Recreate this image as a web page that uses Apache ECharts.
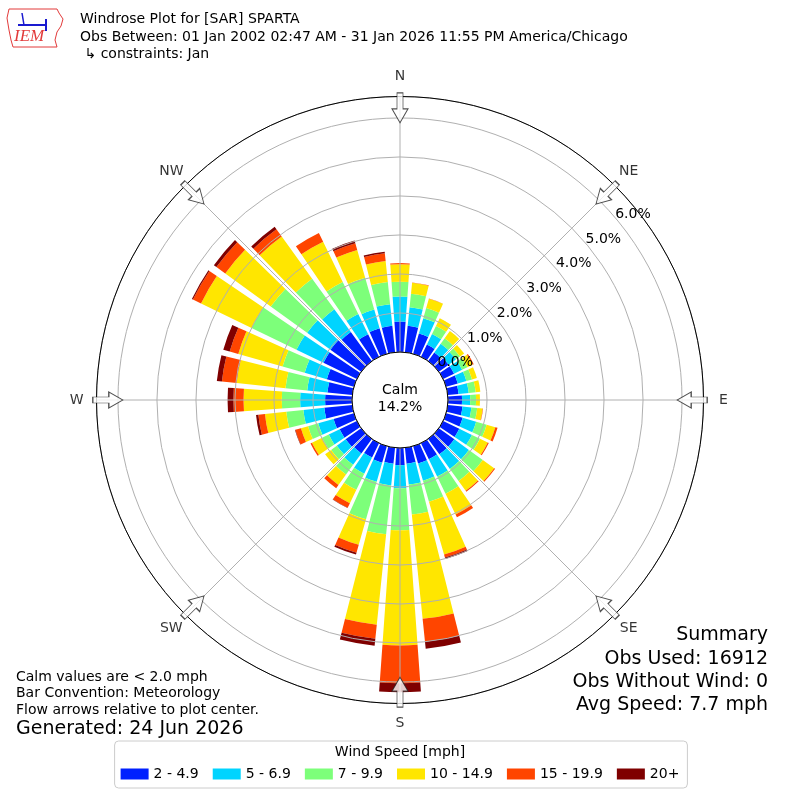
<!DOCTYPE html>
<html><head><meta charset="utf-8">
<script src="https://cdn.jsdelivr.net/npm/echarts@6/dist/echarts.min.js"></script>
<style>html,body{margin:0;padding:0;background:#fff}#c{width:800px;height:800px}</style>
</head><body><div id="c"></div>
<script>
// ---- data (percent of observations) ----
const directions = [0,10,20,30,40,50,60,70,80,90,100,110,120,130,140,150,160,170,180,190,200,210,220,230,240,250,260,270,280,290,300,310,320,330,340,350];
const speedBins = ['2 - 4.9','5 - 6.9','7 - 9.9','10 - 14.9','15 - 19.9','20+'];
const binColors = ['#0020ff','#00d4ff','#7dff7a','#ffe600','#ff4500','#7f0000'];
const spd2to5   = [0.78,0.68,0.54,0.35,0.27,0.31,0.31,0.31,0.28,0.36,0.38,0.44,0.46,0.49,0.49,0.46,0.46,0.41,0.44,0.41,0.44,0.41,0.46,0.49,0.49,0.54,0.72,0.69,0.64,0.72,0.95,0.97,0.92,0.64,0.68,0.68];
const spd5to7   = [0.64,0.48,0.41,0.30,0.28,0.23,0.23,0.23,0.26,0.21,0.23,0.36,0.36,0.46,0.46,0.49,0.46,0.54,0.59,0.56,0.51,0.46,0.36,0.28,0.31,0.41,0.54,0.64,0.52,0.59,0.77,0.74,0.72,0.58,0.50,0.56];
const spd7to10  = [0.38,0.35,0.27,0.23,0.17,0.13,0.15,0.15,0.18,0.15,0.15,0.28,0.23,0.44,0.38,0.49,0.56,0.77,1.08,1.26,1.00,0.46,0.31,0.18,0.19,0.27,0.44,0.47,0.56,0.59,1.28,1.15,0.97,0.91,0.85,0.57];
const spd10to15 = [0.45,0.28,0.25,0.22,0.23,0.13,0.15,0.13,0.12,0.10,0.14,0.23,0.22,0.36,0.31,0.59,1.41,2.69,2.95,2.33,0.68,0.38,0.33,0.19,0.29,0.19,0.55,0.98,1.26,1.18,1.44,1.44,1.33,1.15,0.74,0.54];
const spd15to20 = [0.03,0.01,0.005,0,0,0,0.03,0,0,0,0.01,0.06,0.03,0.03,0.03,0.08,0.08,0.59,0.97,0.36,0.21,0.13,0.10,0,0.04,0.15,0.17,0.26,0.38,0.23,0.23,0.28,0.23,0.25,0.18,0.20];
const spd20plus = [0,0,0,0,0,0,0,0,0,0,0,0,0,0,0,0,0.04,0.18,0.23,0.18,0.05,0.01,0,0,0,0.01,0.06,0.15,0.13,0.17,0.03,0.08,0.08,0,0.07,0.04];
const calmPct = 14.2;
const radialTicks = [0,1,2,3,4,5,6];
const compassNames = ['N','NE','E','SE','S','SW','W','NW'];
const compassAngles = [0,45,90,135,180,225,270,315];
const rMax = 6.55;

const binData = [spd2to5, spd5to7, spd7to10, spd10to15, spd15to20, spd20plus];
const FONT = 'DejaVu Sans';
const chart = echarts.init(document.getElementById('c'), null, {renderer:'canvas'});

const barSeries = speedBins.map((name, i) => ({
  type: 'bar', name, coordinateSystem: 'polar', polarIndex: 0, stack: 'rose',
  data: binData[i], barCategoryGap: '18%', itemStyle: {color: binColors[i]},
  silent: true, z: 2
}));

const option = {
  animation: false,
  backgroundColor: '#fff',
  polar: [
    {center: ['50%','50%'], radius: [48, 303.5]},
    {center: ['50%','50%'], radius: [48, 303.5]},
    {center: [403.5, 406], radius: [67.5, 320.3]}
  ],
  angleAxis: [
    {polarIndex: 0, type: 'category', data: directions.map(String), startAngle: 95, clockwise: true,
     axisLine: {show: false}, axisTick: {show: false}, axisLabel: {show: false}, splitLine: {show: false}},
    {polarIndex: 1, type: 'value', min: 0, max: 360, interval: 45, startAngle: 90, clockwise: true, z: 11,
     axisLine: {show: true, lineStyle: {color: '#000', width: 1}}, axisTick: {show: false}, axisLabel: {show: false},
     splitLine: {show: true, lineStyle: {color: '#b0b0b0', width: 1}}},
    {polarIndex: 2, type: 'value', min: 0, max: 360, startAngle: 39.9, show: false}
  ],
  radiusAxis: [
    {polarIndex: 0, type: 'value', min: 0, max: rMax, show: false},
    {polarIndex: 1, type: 'value', min: 0, max: rMax, interval: 1, z: 10,
     axisLine: {show: false}, axisTick: {show: false}, axisLabel: {show: false},
     splitLine: {show: true, lineStyle: {color: '#b0b0b0', width: 1}}},
    {polarIndex: 2, type: 'value', min: 0, max: rMax, interval: 1, z: 30,
     axisLine: {show: false}, axisTick: {show: false}, splitLine: {show: false},
     axisLabel: {margin: 0, align: 'center', verticalAlign: 'middle', fontSize: 14, fontFamily: FONT, color: '#000',
       showMinLabel: true, showMaxLabel: false, hideOverlap: false,
       formatter: v => radialTicks.indexOf(v) >= 0 ? v.toFixed(1) + '%' : ''}}
  ],
  legend: {
    data: speedBins, left: 'center', top: 741, orient: 'horizontal', icon: 'rect',
    itemWidth: 28, itemHeight: 11, itemGap: 14, padding: [26, 8, 7, 6],
    borderColor: '#cccccc', borderWidth: 1, borderRadius: 4, backgroundColor: '#fff',
    selectedMode: false, textStyle: {fontSize: 14, fontFamily: FONT, color: '#000'}
  },
  series: barSeries.concat([
    {type: 'scatter', coordinateSystem: 'polar', polarIndex: 1, clip: false, silent: true, z: 20,
     data: compassAngles.map(a => [6.26, a]),
     symbol: 'path://M8,0L16,14L11,14L11,30L5,30L5,14L0,14Z', symbolSize: [16, 30],
     symbolRotate: v => 180 - v[1],
     itemStyle: {color: '#fff', borderColor: '#222', borderWidth: 1}},
    {type: 'scatter', coordinateSystem: 'polar', polarIndex: 1, clip: false, silent: true, z: 20,
     data: compassNames.map((n, i) => ({name: n, value: [7.06, compassAngles[i]]})),
     symbolSize: 1, itemStyle: {color: 'rgba(0,0,0,0)'},
     label: {show: true, position: 'inside', formatter: '{b}', fontSize: 14, fontFamily: FONT, color: '#000'}}
  ]),
  graphic: [
    // logo
    {type: 'polygon', z: 50, shape: {points: [[9,9],[57,9],[59,13],[63,19],[61,26],[57,32],[55,40],[57,47],[13,47],[11,40],[9,30],[7,18]]},
     style: {fill: 'none', stroke: '#e23a3a', lineWidth: 1}},
    {type: 'line', z: 51, shape: {x1: 18, y1: 25, x2: 46, y2: 25}, style: {stroke: '#1a1ad0', lineWidth: 2}},
    {type: 'line', z: 51, shape: {x1: 46, y1: 19, x2: 46, y2: 31}, style: {stroke: '#1a1ad0', lineWidth: 2}},
    {type: 'line', z: 51, shape: {x1: 22, y1: 13, x2: 24, y2: 25}, style: {stroke: '#1a1ad0', lineWidth: 1.5}},
    {type: 'text', z: 51, x: 14, y: 37, style: {text: 'IEM', fill: '#e23a3a', font: 'italic 17px "Liberation Serif"', verticalAlign: 'middle'}},
    // header
    {type: 'text', z: 50, x: 80, y: 19, style: {text: 'Windrose Plot for [SAR] SPARTA', fill: '#000', fontSize: 14, fontFamily: FONT, verticalAlign: 'middle'}},
    {type: 'text', z: 50, x: 80, y: 37, style: {text: 'Obs Between: 01 Jan 2002 02:47 AM - 31 Jan 2026 11:55 PM America/Chicago', fill: '#000', fontSize: 14, fontFamily: FONT, verticalAlign: 'middle'}},
    {type: 'text', z: 50, x: 80, y: 54, style: {text: ' \u21b3 constraints: Jan', fill: '#000', fontSize: 14, fontFamily: FONT, verticalAlign: 'middle'}},
    // calm
    {type: 'text', z: 50, x: 400, y: 399, style: {text: 'Calm\n' + calmPct.toFixed(1) + '%', fill: '#000', fontSize: 14, fontFamily: FONT, align: 'center', verticalAlign: 'middle', lineHeight: 17}},
    // footnotes
    {type: 'text', z: 50, x: 16, y: 677, style: {text: 'Calm values are < 2.0 mph', fill: '#000', fontSize: 14, fontFamily: FONT, verticalAlign: 'middle'}},
    {type: 'text', z: 50, x: 16, y: 693, style: {text: 'Bar Convention: Meteorology', fill: '#000', fontSize: 14, fontFamily: FONT, verticalAlign: 'middle'}},
    {type: 'text', z: 50, x: 16, y: 710, style: {text: 'Flow arrows relative to plot center.', fill: '#000', fontSize: 14, fontFamily: FONT, verticalAlign: 'middle'}},
    {type: 'text', z: 50, x: 16, y: 729, style: {text: 'Generated: 24 Jun 2026', fill: '#000', fontSize: 19, fontFamily: FONT, verticalAlign: 'middle'}},
    // summary
    {type: 'text', z: 50, x: 768, y: 635, style: {text: 'Summary', fill: '#000', fontSize: 19, fontFamily: FONT, align: 'right', verticalAlign: 'middle'}},
    {type: 'text', z: 50, x: 768, y: 659, style: {text: 'Obs Used: 16912', fill: '#000', fontSize: 19, fontFamily: FONT, align: 'right', verticalAlign: 'middle'}},
    {type: 'text', z: 50, x: 768, y: 682, style: {text: 'Obs Without Wind: 0', fill: '#000', fontSize: 19, fontFamily: FONT, align: 'right', verticalAlign: 'middle'}},
    {type: 'text', z: 50, x: 768, y: 705, style: {text: 'Avg Speed: 7.7 mph', fill: '#000', fontSize: 19, fontFamily: FONT, align: 'right', verticalAlign: 'middle'}},
    // legend title
    {type: 'text', z: 100, x: 400, y: 752, style: {text: 'Wind Speed [mph]', fill: '#000', fontSize: 14, fontFamily: FONT, align: 'center', verticalAlign: 'middle'}}
  ]
};
chart.setOption(option);
</script></body></html>
